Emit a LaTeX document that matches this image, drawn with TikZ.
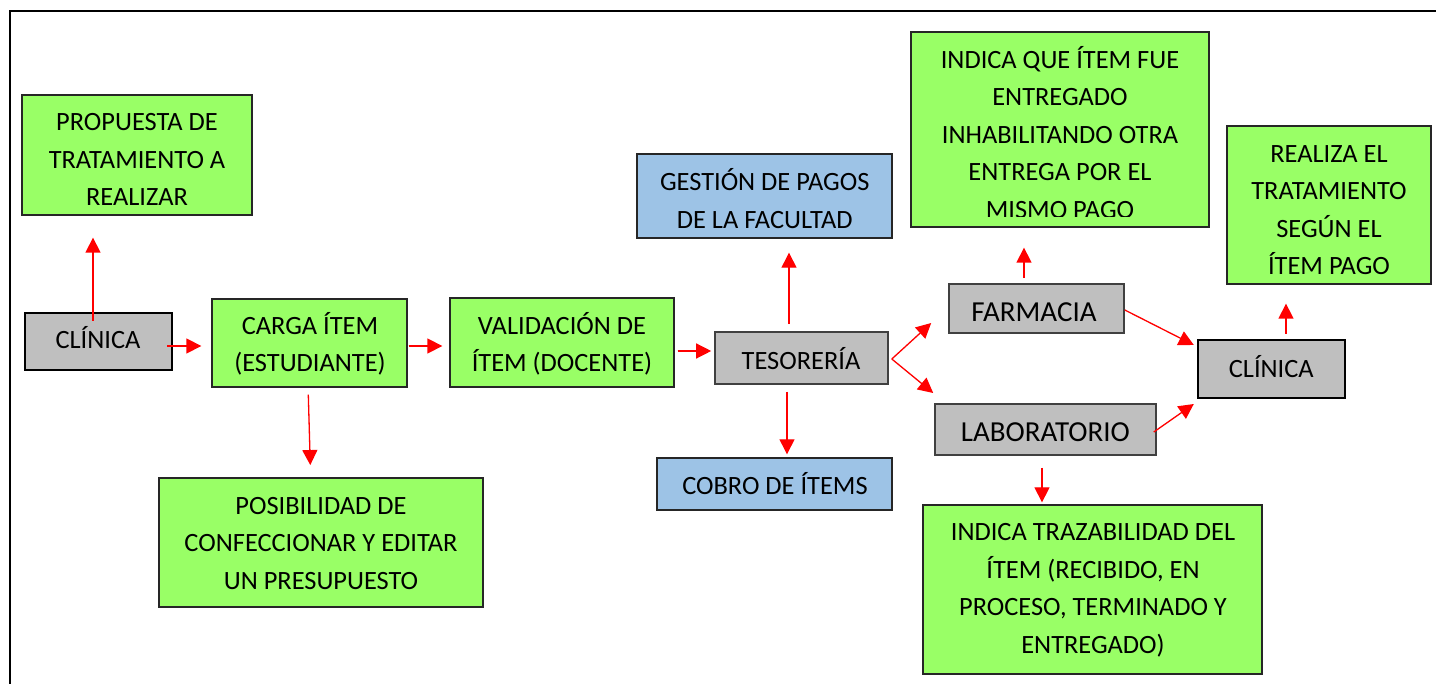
\documentclass[tikz,border=0pt]{standalone}
\usepackage{fontspec}
\setmainfont{Carlito}
\usetikzlibrary{arrows.meta,calc}
\definecolor{boxgreen}{RGB}{153,255,102}
\definecolor{boxgray}{RGB}{191,191,191}
\definecolor{boxblue}{RGB}{157,195,230}
\definecolor{arrred}{RGB}{255,0,0}
\newcommand\cs{\rule[-10.4pt]{0pt}{37.5pt}}
\newcommand\csb{\rule[-9.6pt]{0pt}{37.5pt}}
\tikzset{
  greenbox/.style={draw=black!85, line width=1.3pt, fill=boxgreen, inner sep=0pt},
  graybox/.style={draw=black!75, line width=1.6pt, fill=boxgray, inner sep=0pt},
  clinbox/.style={draw=black, line width=2.4pt, fill=boxgray, inner sep=0pt},
  bluebox/.style={draw=black!85, line width=1.4pt, fill=boxblue, inner sep=0pt},
  txt/.style={inner sep=0pt, align=center, font=\fontsize{26.4}{37.5}\selectfont},
  bigtxt/.style={inner sep=0pt, align=center, font=\fontsize{29}{37.5}\selectfont},
  arr/.style={draw=arrred, line width=1.3pt, -{Triangle[length=15pt,width=15pt]}, fill=arrred}
}
\begin{document}
\begin{tikzpicture}[x=1pt,y=-1pt]
\useasboundingbox (0,0) rectangle (1436,684);
% frame
\draw[line width=2.6pt] (10,684) -- (10,11) -- (1436,11);

% boxes
\node[greenbox, minimum width=230, minimum height=120] (prop) at (137,155) {};
\node[clinbox, minimum width=147, minimum height=57] (clinL) at (98.5,341.5) {};
\node[greenbox, minimum width=195, minimum height=88] (carga) at (309.5,343) {};
\node[greenbox, minimum width=224, minimum height=89] (valid) at (562,342.5) {};
\node[bluebox, minimum width=255, minimum height=84] (gest) at (764.5,196) {};
\node[graybox, minimum width=173, minimum height=52] (teso) at (801.5,358) {};
\node[bluebox, minimum width=235, minimum height=52] (cobro) at (774.5,484) {};
\node[graybox, minimum width=175, minimum height=49] (farm) at (1036.5,308.5) {};
\node[graybox, minimum width=221, minimum height=51] (lab) at (1045.5,429.5) {};
\node[clinbox, minimum width=147, minimum height=58] (clinR) at (1271.5,369) {};
\node[greenbox, minimum width=339, minimum height=169] (traz) at (1092.5,589.5) {};
\node[greenbox, minimum width=298, minimum height=195] (indq) at (1060,129.5) {};
\node[greenbox, minimum width=204, minimum height=158] (realiza) at (1329,205) {};
\node[greenbox, minimum width=324, minimum height=129] (posib) at (321,542.5) {};

% texts
\begin{scope}
\clip (22,95) rectangle (252,206);
\node[txt] (propT) at (137,160) {\cs PROPUESTA DE\\TRATAMIENTO A\\REALIZAR\cs};
\end{scope}
\node[txt] (clinLT) at (98,340.5) {\cs CLÍNICA};
\node[txt] (cargaT) at (310,344.5) {\cs CARGA ÍTEM\\(ESTUDIANTE)\cs};
\node[txt] (validT) at (562,344.8) {\cs VALIDACIÓN DE\\ÍTEM (DOCENTE)\cs};
\node[txt] (gestT) at (764.7,201) {\cs GESTIÓN DE PAGOS\\DE LA FACULTAD\cs};
\node[txt] (tesoT) at (801,360.7) {\cs TESORERÍA};
\node[txt] (cobroT) at (775,485.8) {\cs COBRO DE ÍTEMS};
\node[bigtxt] (farmT) at (1034,312.8) {\csb FARMACIA};
\node[bigtxt] (labT) at (1045.3,432.8) {\csb LABORATORIO};
\node[txt] (clinRT) at (1271.3,369) {\cs CLÍNICA};
\node[txt] (trazT) at (1093,588.7) {\cs INDICA TRAZABILIDAD DEL\\ÍTEM (RECIBIDO, EN\\PROCESO, TERMINADO Y\\ENTREGADO)\cs};
\begin{scope}
\clip (911,32) rectangle (1209,217);
\node[txt] (indqT) at (1060,135) {\cs INDICA QUE ÍTEM FUE\\ENTREGADO\\INHABILITANDO OTRA\\ENTREGA POR EL\\MISMO PAGO\cs};
\end{scope}
\node[txt] (realizaT) at (1329,210) {\cs REALIZA EL\\TRATAMIENTO\\SEGÚN EL\\ÍTEM PAGO\cs};
\node[txt] (posibT) at (321,543.3) {\cs POSIBILIDAD DE\\CONFECCIONAR Y EDITAR\\UN PRESUPUESTO\cs};

% connectors
\draw[arr] ($(clinL.north)+(-5.5,9)$) -- ($(prop.south)+(-44,22)$);
\draw[arr] ($(clinL.east)+(-6,4.5)$) -- ($(carga.west)+(-10,3)$);
\draw[arr] ($(carga.east)+(1,3)$) -- ($(valid.west)+(-7,3.5)$);
\draw[arr] ($(carga.south)+(-1.2,7)$) -- ($(posib.north)+(-10.7,-12.3)$);
\draw[arr] ($(valid.east)+(3,8.5)$) -- ($(teso.west)+(-3,-7)$);
\draw[arr] ($(teso.north)+(-12.5,-7)$) -- ($(gest.south)+(24.5,14)$);
\draw[arr] ($(teso.south)+(-14.5,7)$) -- ($(cobro.north)+(12.5,-3)$);
\draw[arr] ($(teso.east)+(3,1)$) -- ($(farm.west)+(-17,14.5)$);
\draw[arr] ($(teso.east)+(3,1)$) -- ($(lab.west)+(-1,-36.5)$);
\draw[arr] ($(farm.east)+(0,1.5)$) -- ($(clinR.west)+(-3,-24)$);
\draw[arr] ($(lab.east)+(-3,2.5)$) -- ($(clinR.west)+(-3,35)$);
\draw[arr] ($(lab.south)+(-3.5,12)$) -- ($(traz.north)+(-50.5,-2)$);
\draw[arr] ($(farm.north)+(-12.5,-5)$) -- ($(indq.south)+(-36,20)$);
\draw[arr] ($(clinR.north)+(14.5,-5)$) -- ($(realiza.south)+(-43,19)$);
\end{tikzpicture}
\end{document}
